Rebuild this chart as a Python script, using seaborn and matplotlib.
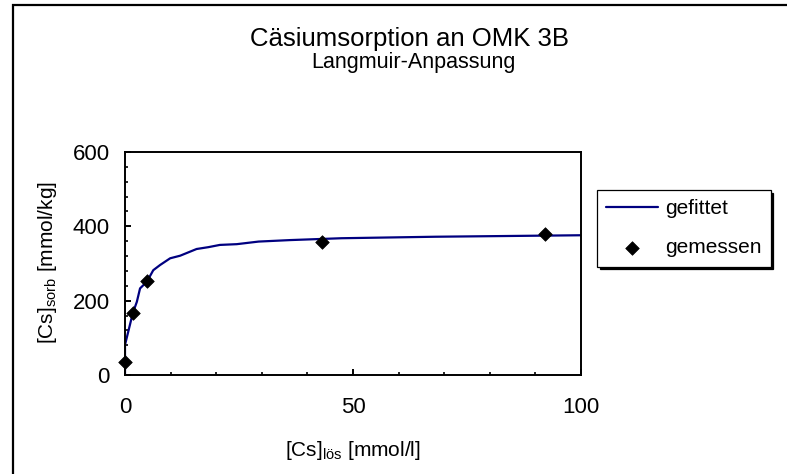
import matplotlib
matplotlib.use("Agg")
import matplotlib.pyplot as plt
from matplotlib.patches import Rectangle
from matplotlib.ticker import MultipleLocator
import seaborn as sns
import pandas as pd

# ---- data ----
fit_x = [0, 0, 1.7, 2.6, 3.3, 4.8, 6.2, 7.7, 9.9, 12.1, 14.3, 15.7, 18.3, 20.8,
         24.5, 29.3, 36.2, 47.5, 68, 100]
fit_y = [0, 81, 166, 197, 233, 251, 282, 296, 314, 321, 332, 339, 344, 350,
         352, 359, 363, 368, 372, 376]
meas_x = [0.1, 1.7, 4.8, 43.2, 92.2]
meas_y = [36, 166, 252, 359, 379]

title = "Cäsiumsorption an OMK 3B"
subtitle = "Langmuir-Anpassung"
fit_label = "gefittet"
meas_label = "gemessen"

sns.set_theme(style="white")
plt.rcParams["font.family"] = ["Liberation Sans", "DejaVu Sans"]
plt.rcParams["text.color"] = "black"
plt.rcParams["mathtext.fontset"] = "custom"
plt.rcParams["mathtext.rm"] = "Liberation Sans"
plt.rcParams["mathtext.it"] = "Liberation Sans:italic"
plt.rcParams["mathtext.bf"] = "Liberation Sans:bold"

W, H = 787, 474
fig = plt.figure(figsize=(W / 100, H / 100), dpi=100)
fig.patch.set_facecolor("white")

L, R, T, B = 125, 581, 152, 375
ax = fig.add_axes([L / W, 1 - B / H, (R - L) / W, (B - T) / H])

fit_df = pd.DataFrame({"x": fit_x, "y": fit_y})
meas_df = pd.DataFrame({"x": meas_x, "y": meas_y})

sns.lineplot(data=fit_df, x="x", y="y", ax=ax, color="#000080", lw=1.6,
             estimator=None, sort=False, label=fit_label)
sns.scatterplot(data=meas_df, x="x", y="y", ax=ax, marker="D", color="black",
                s=48, edgecolor="black", linewidth=0.5, clip_on=False,
                zorder=5, label=meas_label)

ax.set_xlim(0, 100)
ax.set_ylim(0, 600)
ax.xaxis.set_major_locator(MultipleLocator(50))
ax.xaxis.set_minor_locator(MultipleLocator(10))
ax.yaxis.set_major_locator(MultipleLocator(200))
ax.yaxis.set_minor_locator(MultipleLocator(40))
ax.tick_params(axis="both", which="major", direction="in", length=4.3, width=1.4,
               color="black", labelsize=16, labelcolor="black")
ax.tick_params(axis="both", which="minor", direction="in", length=2.2, width=1.2,
               color="black")
ax.tick_params(axis="x", which="major", pad=16)
ax.tick_params(axis="y", which="major", pad=11)
ax.tick_params(axis="both", which="both", bottom=True, left=True, top=False, right=False)
for sp in ax.spines.values():
    sp.set_visible(True)
    sp.set_color("black")
    sp.set_linewidth(1.4)
ax.set_xlabel("")
ax.set_ylabel("")
ax.set_facecolor("white")

leg = ax.legend(loc="upper left", bbox_to_anchor=(597 / W, 1 - 190 / H),
                bbox_transform=fig.transFigure, borderaxespad=0,
                frameon=True, fancybox=False, fontsize=15,
                handlelength=2.5, handletextpad=0.3, borderpad=0.45,
                labelspacing=0.95,
                shadow={"color": "black", "alpha": 1})
leg.get_frame().set_edgecolor("black")
leg.get_frame().set_linewidth(0.9)
leg.get_frame().set_facecolor("white")
for t in leg.get_texts():
    t.set_color("black")

# titles and axis labels
fig.text(410 / W, 1 - 46 / H, title, ha="center", va="baseline", fontsize=18.5,
         color="black")
fig.text(413 / W, 1 - 68 / H, subtitle, ha="center", va="baseline", fontsize=15.5,
         color="black")
fig.text(353 / W, 1 - 450 / H, "[Cs]$_{\\mathrm{lös}}$ [mmol/l]", ha="center",
         va="center", fontsize=15, color="black")
fig.text(48 / W, 1 - 262 / H, "[Cs]$_{\\mathrm{sorb}}$ [mmol/kg]", ha="center",
         va="center", rotation=90, fontsize=15, color="black")

# outer chart border
fig.patches.append(Rectangle((13 / W, -0.1), 1.2, 1.1 - 5 / H,
                             transform=fig.transFigure, fill=False,
                             edgecolor="black", linewidth=1.6))

fig.savefig("out.png", dpi=100)
